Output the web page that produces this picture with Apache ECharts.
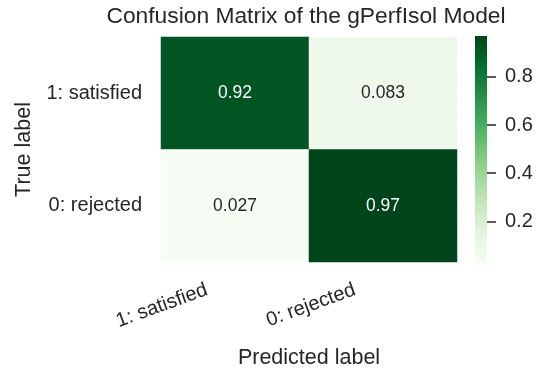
<!DOCTYPE html>
<html>
<head>
<meta charset="utf-8">
<script src="https://cdn.jsdelivr.net/npm/echarts@6/dist/echarts.min.js"></script>
<style>html,body{margin:0;padding:0;background:#fff}#c{width:545px;height:373px}</style>
</head>
<body>
<div id="c"></div>
<script>
// ---- data ----
var predictedLabels = ['1: satisfied', '0: rejected'];
var trueLabels = ['1: satisfied', '0: rejected'];
var rowSatisfied = [0.92, 0.083];
var rowRejected = [0.027, 0.97];
var colorbarTicks = [0.2, 0.4, 0.6, 0.8];
var vMin = 0.027, vMax = 0.97;
var greens = ['#f7fcf5', '#e5f5e0', '#c7e9c0', '#a1d99b', '#74c476', '#41ab5d', '#238b45', '#006d2c', '#00441b'];

var FONT = 'Liberation Sans, Arial, sans-serif';
var TXT = '#262626';
var rows = [rowSatisfied, rowRejected];
var cells = [];
rows.forEach(function (row, yi) {
  row.forEach(function (v, xi) {
    var norm = (v - vMin) / (vMax - vMin);
    cells.push({ value: [xi, yi, v], label: { color: norm > 0.5 ? '#ffffff' : TXT } });
  });
});

var stops = greens.map(function (c, i) { return { offset: 1 - i / (greens.length - 1), color: c }; }).reverse();

var chart = echarts.init(document.getElementById('c'), null, { renderer: 'canvas' });
chart.setOption({
  animation: false,
  backgroundColor: '#ffffff',
  title: {
    text: 'Confusion Matrix of the gPerfIsol Model',
    left: 301, top: 0, textAlign: 'center',
    textStyle: { fontFamily: FONT, fontSize: 22.8, fontWeight: 'normal', color: TXT }
  },
  grid: [
    { left: 161, right: 88, top: 37, bottom: 111, outerBoundsMode: 'none', containLabel: false },
    { left: 475, width: 12, top: 36, height: 227, outerBoundsMode: 'none', containLabel: false }
  ],
  xAxis: [
    {
      type: 'category', gridIndex: 0, data: predictedLabels,
      axisLine: { show: false }, axisTick: { show: false }, splitLine: { show: false },
      axisLabel: { rotate: 20, fontFamily: FONT, fontSize: 20, color: TXT, margin: 17, padding: [0, 30, 0, 0] },
      name: 'Predicted label', nameLocation: 'middle', nameGap: 85, nameMoveOverlap: false,
      nameTextStyle: { fontFamily: FONT, fontSize: 21.5, color: TXT }
    },
    { type: 'category', gridIndex: 1, data: ['cb'], show: false }
  ],
  yAxis: [
    {
      type: 'category', gridIndex: 0, data: trueLabels, inverse: true,
      axisLine: { show: false }, axisTick: { show: false }, splitLine: { show: false },
      axisLabel: { fontFamily: FONT, fontSize: 20, color: TXT, margin: 19 },
      name: 'True label', nameLocation: 'middle', nameGap: 124,
      nameTextStyle: { fontFamily: FONT, fontSize: 21.5, color: TXT }
    },
    {
      type: 'value', gridIndex: 1, min: vMin, max: vMax, position: 'right',
      axisLine: { show: false }, splitLine: { show: false },
      axisTick: { show: true, length: 9, customValues: colorbarTicks, lineStyle: { color: TXT, width: 1.5 } },
      axisLabel: { customValues: colorbarTicks, fontFamily: FONT, fontSize: 20, color: TXT, margin: 18,
        formatter: function (v) { return String(Math.round(v * 10) / 10); } }
    }
  ],
  visualMap: {
    show: false, type: 'continuous', min: vMin, max: vMax, seriesIndex: 0, dimension: 2,
    inRange: { color: greens }
  },
  series: [
    {
      type: 'heatmap', xAxisIndex: 0, yAxisIndex: 0, data: cells,
      label: { show: true, fontFamily: FONT, fontSize: 17.5, formatter: function (p) { return String(p.value[2]); } },
      itemStyle: { borderWidth: 0 }
    },
    {
      type: 'bar', xAxisIndex: 1, yAxisIndex: 1, data: [vMax], barWidth: '100%', clip: true,
      itemStyle: { color: new echarts.graphic.LinearGradient(0, 0, 0, 1, stops) },
      silent: true
    }
  ]
});
</script>
</body>
</html>
